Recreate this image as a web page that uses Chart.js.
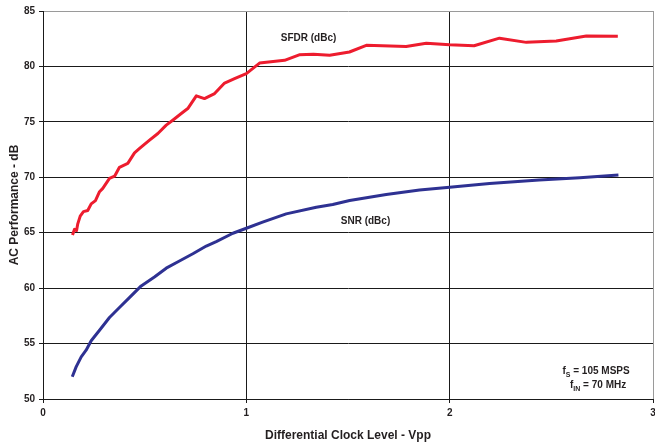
<!DOCTYPE html>
<html>
<head>
<meta charset="utf-8">
<script src="https://cdn.jsdelivr.net/npm/chart.js@4/dist/chart.umd.min.js"></script>
<style>
    html, body { margin: 0; padding: 0; background: #fff; }
    #wrap { width: 655px; height: 443px; }
</style>
</head>
<body>
<div id="wrap"><canvas id="chart" width="655" height="443"></canvas></div>
<script>
const xTicks = [0, 1, 2, 3];
const yTicks = [50, 55, 60, 65, 70, 75, 80, 85];

const sfdrX = [0.145, 0.155, 0.165, 0.171, 0.183, 0.199, 0.22, 0.237, 0.258, 0.278, 0.294, 0.327, 0.352, 0.376,
    0.417, 0.45, 0.475, 0.524, 0.565, 0.606, 0.638, 0.68, 0.712, 0.754, 0.794, 0.844, 0.893, 0.942, 1.0,
    1.065, 1.188, 1.26, 1.33, 1.41, 1.507, 1.59, 1.786, 1.885, 2.0, 2.12, 2.245, 2.377, 2.524, 2.672, 2.827];
const sfdrY = [64.8, 65.3, 65.2, 65.8, 66.5, 66.9, 67.0, 67.6, 67.9, 68.7, 69.0, 69.9, 70.1, 70.9,
    71.25, 72.2, 72.6, 73.35, 73.95, 74.7, 75.15, 75.75, 76.2, 77.35, 77.1, 77.55, 78.5, 78.9, 79.35,
    80.3, 80.55, 81.05, 81.1, 81.0, 81.3, 81.9, 81.8, 82.1, 81.95, 81.86, 82.55, 82.17, 82.3, 82.75, 82.72];

const snrX = [0.144, 0.163, 0.188, 0.212, 0.237, 0.278, 0.327, 0.376, 0.425, 0.483, 0.548, 0.606, 0.671,
    0.737, 0.803, 0.852, 0.934, 1.0, 1.08, 1.196, 1.344, 1.425, 1.508, 1.688, 1.852, 2.0, 2.196, 2.44, 2.64, 2.83];
const snrY = [52.0, 52.9, 53.8, 54.4, 55.25, 56.2, 57.35, 58.25, 59.15, 60.2, 61.0, 61.8, 62.45,
    63.1, 63.8, 64.2, 64.95, 65.4, 65.95, 66.7, 67.3, 67.55, 67.9, 68.45, 68.85, 69.1, 69.45, 69.75, 69.95, 70.2];

const FONT = 'Liberation Sans, Arial, sans-serif';

function toPoints(xs, ys) {
    return xs.map((x, i) => ({ x, y: ys[i] }));
}

// labels drawn inside the plot, anchored to data coordinates
const notes = [
    { x: 1.306, y: 82.57, parts: [['SFDR (dBc)', false]] },
    { x: 1.586, y: 66.05, parts: [['SNR (dBc)', false]] },
    { x: 2.72, y: 52.46, parts: [['f', false], ['S', true], [' = 105 MSPS', false]] },
    { x: 2.73, y: 51.2, parts: [['f', false], ['IN', true], [' = 70 MHz', false]] }
];

const notePlugin = {
    id: 'notes',
    afterDatasetsDraw(chart) {
        const { ctx, scales } = chart;
        ctx.save();
        ctx.fillStyle = '#231f20';
        ctx.textBaseline = 'middle';
        ctx.textAlign = 'left';
        notes.forEach(note => {
            let total = 0;
            note.parts.forEach(([txt, sub]) => {
                ctx.font = `bold ${sub ? 7 : 10}px ${FONT}`;
                total += ctx.measureText(txt).width;
            });
            let px = scales.x.getPixelForValue(note.x) - total / 2;
            const py = scales.y.getPixelForValue(note.y);
            note.parts.forEach(([txt, sub]) => {
                ctx.font = `bold ${sub ? 7 : 10}px ${FONT}`;
                ctx.fillText(txt, px, sub ? py + 3 : py);
                px += ctx.measureText(txt).width;
            });
        });
        ctx.restore();
    }
};

new Chart(document.getElementById('chart'), {
    type: 'line',
    data: {
        datasets: [
            {
                label: 'SFDR (dBc)',
                data: toPoints(sfdrX, sfdrY),
                borderColor: '#ed1c2e',
                borderWidth: 3,
                pointRadius: 0,
                tension: 0,
                borderJoinStyle: 'round'
            },
            {
                label: 'SNR (dBc)',
                data: toPoints(snrX, snrY),
                borderColor: '#2e3192',
                borderWidth: 3,
                pointRadius: 0,
                tension: 0,
                borderJoinStyle: 'round'
            }
        ]
    },
    options: {
        responsive: false,
        animation: false,
        events: [],
        layout: { padding: { top: 11, right: 2, left: 0, bottom: 0 } },
        plugins: {
            legend: { display: false },
            tooltip: { enabled: false }
        },
        scales: {
            x: {
                type: 'linear',
                min: 0,
                max: 3,
                afterBuildTicks(scale) {
                    scale.ticks = xTicks.map(value => ({ value }));
                },
                afterFit(scale) {
                    scale.height = 44;
                    scale.paddingLeft = 0;
                    scale.paddingRight = 0;
                },
                grid: {
                    color(c) { return c.tick && c.tick.value === 3 ? '#9a9a9a' : '#1a1a1a'; },
                    tickColor: '#1a1a1a',
                    tickLength: 4,
                    lineWidth: 1
                },
                border: { color: '#1a1a1a', width: 1 },
                ticks: {
                    padding: 4,
                    color: '#231f20',
                    font: { family: FONT, size: 10, weight: 'bold' }
                },
                title: {
                    display: true,
                    text: 'Differential Clock Level - Vpp',
                    color: '#231f20',
                    padding: { top: 0, bottom: 0 },
                    font: { family: FONT, size: 12, weight: 'bold' }
                }
            },
            y: {
                min: 50,
                max: 85,
                afterBuildTicks(scale) {
                    scale.ticks = yTicks.map(value => ({ value }));
                },
                afterFit(scale) {
                    scale.width = 43;
                },
                grid: {
                    color(c) { return c.tick && c.tick.value === 85 ? '#9a9a9a' : '#1a1a1a'; },
                    tickColor: '#1a1a1a',
                    tickLength: 4,
                    lineWidth: 1
                },
                border: { color: '#1a1a1a', width: 1 },
                ticks: {
                    padding: 4,
                    color: '#231f20',
                    font: { family: FONT, size: 10, weight: 'bold' }
                },
                title: {
                    display: true,
                    text: 'AC Performance - dB',
                    color: '#231f20',
                    padding: { top: 7, bottom: 0 },
                    font: { family: FONT, size: 12, weight: 'bold' }
                }
            }
        }
    },
    plugins: [notePlugin]
});
</script>
</body>
</html>
